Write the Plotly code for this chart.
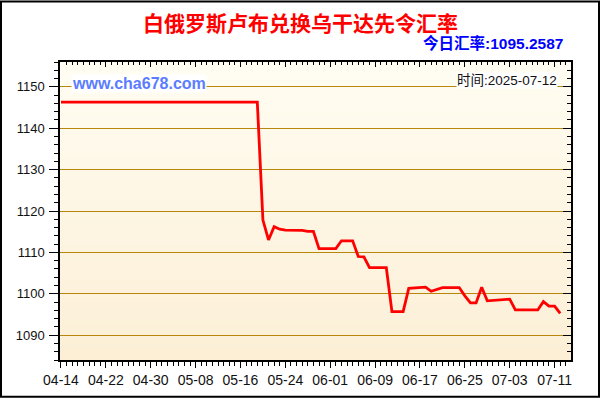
import zlib, struct, base64
import pandas as pd
import plotly.graph_objects as go

# ---- data ----
start_date = "2025-04-14"
end_date = "2025-07-12"
rates = [1146.3] * 36 + [
    1117.8, 1113.0, 1116.2, 1115.6, 1115.4, 1115.4, 1115.4, 1115.3, 1115.1, 1115.1,
    1110.9, 1110.9, 1110.9, 1110.9, 1112.8, 1112.8, 1112.8, 1109.0, 1108.9, 1106.3,
    1106.3, 1106.3, 1106.3, 1095.7, 1095.7, 1095.7, 1101.3, 1101.4, 1101.5, 1101.6,
    1100.6, 1101.0, 1101.5, 1101.5, 1101.5, 1101.5, 1099.5, 1097.8, 1097.8, 1101.6,
    1098.3, 1098.4, 1098.4, 1098.6, 1098.7, 1096.1, 1096.1, 1096.1, 1096.1, 1096.1,
    1098.1, 1097.0, 1097.0, 1095.26,
]
dates = pd.date_range(start_date, end_date, freq="D")
title_text = "白俄罗斯卢布兑换乌干达先令汇率"
today_text = "今日汇率:1095.2587"
time_text = "时间:2025-07-12"
site_text = "www.cha678.com"
y_ticks = [1090, 1100, 1110, 1120, 1130, 1140, 1150]


def png_gradient(top, bottom, h=64):
    raw = b""
    for i in range(h):
        t = i / (h - 1)
        c = [round(top[k] + (bottom[k] - top[k]) * t) for k in range(3)]
        raw += b"\x00" + bytes(c)

    def chunk(tag, data):
        return (struct.pack(">I", len(data)) + tag + data
                + struct.pack(">I", zlib.crc32(tag + data) & 0xFFFFFFFF))

    ihdr = struct.pack(">IIBBBBB", 1, h, 8, 2, 0, 0, 0)
    png = (b"\x89PNG\r\n\x1a\n" + chunk(b"IHDR", ihdr)
           + chunk(b"IDAT", zlib.compress(raw)) + chunk(b"IEND", b""))
    return "data:image/png;base64," + base64.b64encode(png).decode()


L, R, T, B = 60, 29, 62, 38
W, H = 600, 400
pw, ph = W - L - R, H - T - B

fig = go.Figure()
fig.add_trace(go.Scatter(x=dates, y=rates, mode="lines",
                         line=dict(color="#FF0000", width=2.8),
                         hoverinfo="skip", showlegend=False))
# helper trace for mirrored axes
fig.add_trace(go.Scatter(x=dates, y=rates, xaxis="x2", yaxis="y2", mode="lines",
                         line=dict(width=0), opacity=0, hoverinfo="skip", showlegend=False))

xrange = ["2025-04-13 19:46", "2025-07-13 22:10"]
yrange = [1084, 1156]
ytickfont = dict(family="Arial, Liberation Sans", size=13, color="#111111")
xtickfont = dict(family="Arial, Liberation Sans", size=14, color="#111111")

fig.update_layout(
    width=W, height=H,
    margin=dict(l=L, r=R, t=T, b=B),
    paper_bgcolor="white",
    plot_bgcolor="rgba(0,0,0,0)",
    xaxis=dict(type="date", range=xrange, tick0="2025-04-14", dtick=8 * 86400000,
               tickformat="%m-%d", ticks="outside", ticklen=6, tickcolor="black",
               showline=True, linecolor="black", linewidth=1.5, showgrid=False,
               zeroline=False, tickfont=xtickfont,
               minor=dict(dtick=86400000, tick0="2025-04-14", ticks="outside",
                          ticklen=4, tickcolor="black", showgrid=False)),
    yaxis=dict(range=yrange, tickvals=y_ticks, ticks="outside", ticklen=9,
               tickcolor="black", showline=True, linecolor="black", linewidth=1.5,
               showgrid=True, gridcolor="#B8860B", gridwidth=1, zeroline=False,
               tickfont=ytickfont, ticklabelstandoff=2,
               minor=dict(dtick=2, tick0=1084, ticks="outside", ticklen=4,
                          tickcolor="black", showgrid=False)),
    xaxis2=dict(type="date", range=xrange, overlaying="x", side="top",
                showticklabels=False, ticks="inside", ticklen=5, tickcolor="black",
                tick0="2025-04-14", dtick=8 * 86400000,
                showline=True, linecolor="black", linewidth=1.5, showgrid=False,
                zeroline=False,
                minor=dict(dtick=86400000, tick0="2025-04-14", ticks="inside",
                           ticklen=3, tickcolor="black", showgrid=False)),
    yaxis2=dict(range=yrange, overlaying="y", side="right", anchor="x",
                showticklabels=False, ticks="inside", ticklen=8, tickcolor="black",
                tickvals=y_ticks, showline=True, linecolor="black", linewidth=1.5,
                showgrid=False, zeroline=False,
                minor=dict(dtick=2, tick0=1084, ticks="inside", ticklen=4,
                           tickcolor="black", showgrid=False)),
    images=[dict(source=png_gradient((255, 253, 242), (252, 239, 214)),
                 xref="paper", yref="paper", x=0, y=1, sizex=1, sizey=1,
                 sizing="stretch", xanchor="left", yanchor="top", layer="below")],
    shapes=[dict(type="rect", xref="paper", yref="paper",
                 x0=(1 - L) / pw, x1=(W - 1 - L) / pw,
                 y0=(H - B - (H - 1)) / ph, y1=(H - B - 1) / ph,
                 line=dict(color="black", width=2), fillcolor="rgba(0,0,0,0)")],
    annotations=[
        dict(text=f"<b>{title_text}</b>", xref="paper", yref="paper",
             x=(300 - L) / pw, y=(H - B - 22) / ph, xanchor="center", yanchor="middle",
             showarrow=False,
             font=dict(family="Noto Sans CJK SC", size=21, color="#FF0000")),
        dict(text=f"<b>{today_text}</b>", xref="paper", yref="paper",
             x=(565 - L) / pw, y=(H - B - 43) / ph, xanchor="right", yanchor="middle",
             showarrow=False,
             font=dict(family="Arial, Noto Sans CJK SC", size=15.5, color="#0000FF")),
        dict(text=f"<b>{site_text}</b>", xref="paper", yref="paper",
             x=(71 - L) / pw, y=(H - B - 84) / ph, xanchor="left", yanchor="middle",
             showarrow=False, bgcolor="white", borderpad=0,
             font=dict(family="Arial, Liberation Sans", size=16, color="#5B7CFF")),
        dict(text=time_text, xref="paper", yref="paper",
             x=(558 - L) / pw, y=(H - B - 81) / ph, xanchor="right", yanchor="middle",
             showarrow=False, bgcolor="white", borderpad=0,
             font=dict(family="Arial, Noto Sans CJK SC", size=13.5, color="#111111")),
    ],
)

fig.write_html("out.html", config={"displayModeBar": False},
               post_script="document.body.style.margin='0';")
